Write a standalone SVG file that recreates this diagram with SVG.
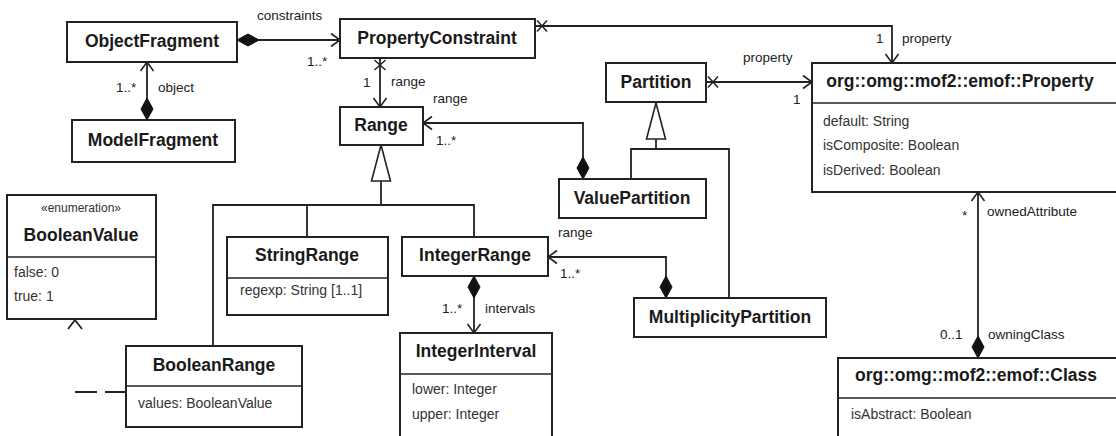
<svg xmlns="http://www.w3.org/2000/svg" width="1116" height="436" viewBox="0 0 1116 436">
<style>
.box{fill:#fff;stroke:#222;stroke-width:2}
.sep{stroke:#222;stroke-width:1.5}
.t{font-family:"Liberation Sans",Arial,sans-serif;font-weight:bold;font-size:17.5px;fill:#1a1a1a;text-anchor:middle}
.a{font-family:"Liberation Sans",Arial,sans-serif;font-size:14px;fill:#333}
.st{font-family:"Liberation Sans",Arial,sans-serif;font-size:12px;fill:#333;text-anchor:middle}
.l{font-family:"Liberation Sans",Arial,sans-serif;font-size:13.5px;fill:#222}
.c{fill:none;stroke:#222;stroke-width:1.8}
</style>
<defs>
<marker id="arr" viewBox="-11 -8 12 16" refX="0" refY="0" markerWidth="12" markerHeight="16" markerUnits="userSpaceOnUse" orient="auto" overflow="visible">
<path d="M-9,-6.5 L0,0 L-9,6.5" fill="none" stroke="#222" stroke-width="1.6"/>
</marker>
<marker id="dia" viewBox="-24 -7 26 14" refX="0" refY="0" markerWidth="26" markerHeight="14" markerUnits="userSpaceOnUse" orient="auto-start-reverse" overflow="visible">
<path d="M0,0 L-11,-6 L-22,0 L-11,6 Z" fill="#111" stroke="#111" stroke-width="1"/>
</marker>
<marker id="xm" viewBox="-14 -7 16 14" refX="0" refY="0" markerWidth="16" markerHeight="14" markerUnits="userSpaceOnUse" orient="auto-start-reverse" overflow="visible">
<path d="M-2,-5.5 L-12,5.5 M-2,5.5 L-12,-5.5" fill="none" stroke="#222" stroke-width="1.5"/>
</marker>
<marker id="gen" viewBox="-38 -11 40 22" refX="0" refY="0" markerWidth="40" markerHeight="22" markerUnits="userSpaceOnUse" orient="auto" overflow="visible">
<path d="M0,0 L-36,-9.5 L-36,9.5 Z" fill="#fff" stroke="#222" stroke-width="1.6"/>
</marker>
</defs>
<rect width="1116" height="436" fill="#fff"/>

<g id="connectors">
<path class="c" d="M237,40 H340" marker-start="url(#dia)" marker-end="url(#arr)"/>
<path class="c" d="M147,120 V62" marker-start="url(#dia)" marker-end="url(#arr)"/>
<path class="c" d="M535,26 H892 V63" marker-start="url(#xm)" marker-end="url(#arr)"/>
<path class="c" d="M380,58 V107" marker-start="url(#xm)" marker-end="url(#arr)"/>
<path class="c" d="M583,179 V123 H423" marker-start="url(#dia)" marker-end="url(#arr)"/>
<path class="c" d="M706,82 H812" marker-start="url(#xm)" marker-end="url(#arr)"/>
<path class="c" d="M666,298 V257 H548" marker-start="url(#dia)" marker-end="url(#arr)"/>
<path class="c" d="M474,276 V333" marker-start="url(#dia)" marker-end="url(#arr)"/>
<path class="c" d="M978,358 V192" marker-start="url(#dia)" marker-end="url(#arr)"/>
<path class="c" d="M213,346 V205 H474 V237 M307,205 V237"/>
<path class="c" d="M381,205 V145" marker-end="url(#gen)"/>
<path class="c" d="M631,179 V149 H729 V298"/>
<path class="c" d="M656,149 V103" marker-end="url(#gen)"/>
<path class="c" d="M75,392 H126" stroke-dasharray="22,8"/>
<path class="c" d="M68,329 L75,320 L82,329"/>
<text class="l" x="257" y="20">constraints</text>
<text class="l" x="307" y="66">1..*</text>
<text class="l" x="116" y="92">1..*</text>
<text class="l" x="158" y="92">object</text>
<text class="l" x="876" y="43">1</text>
<text class="l" x="902" y="43">property</text>
<text class="l" x="363" y="87">1</text>
<text class="l" x="391" y="86">range</text>
<text class="l" x="433" y="103">range</text>
<text class="l" x="436" y="145">1..*</text>
<text class="l" x="743" y="62">property</text>
<text class="l" x="793" y="104">1</text>
<text class="l" x="558" y="237">range</text>
<text class="l" x="560" y="278">1..*</text>
<text class="l" x="442" y="313">1..*</text>
<text class="l" x="485" y="313">intervals</text>
<text class="l" x="962" y="220">*</text>
<text class="l" x="987" y="216">ownedAttribute</text>
<text class="l" x="940" y="339">0..1</text>
<text class="l" x="988" y="339">owningClass</text>
</g>

<g id="ObjectFragment">
<rect class="box" x="67" y="22" width="170" height="40"/>
<text class="t" x="152" y="47">ObjectFragment</text>
</g>
<g id="ModelFragment">
<rect class="box" x="72" y="120" width="163" height="42"/>
<text class="t" x="153" y="146">ModelFragment</text>
</g>
<g id="PropertyConstraint">
<rect class="box" x="340" y="19" width="195" height="39"/>
<text class="t" x="437" y="44">PropertyConstraint</text>
</g>
<g id="Range">
<rect class="box" x="340" y="107" width="83" height="38"/>
<text class="t" x="381" y="131">Range</text>
</g>
<g id="Partition">
<rect class="box" x="606" y="63" width="100" height="39"/>
<text class="t" x="656" y="88">Partition</text>
</g>
<g id="ValuePartition">
<rect class="box" x="559" y="179" width="147" height="39"/>
<text class="t" x="632" y="204">ValuePartition</text>
</g>
<g id="Property">
<rect class="box" x="812" y="63" width="316" height="129"/>
<line class="sep" x1="812" y1="103" x2="1128" y2="103"/>
<text class="t" x="960" y="87">org::omg::mof2::emof::Property</text>
<text class="a" x="823" y="126">default: String</text>
<text class="a" x="823" y="150">isComposite: Boolean</text>
<text class="a" x="823" y="175">isDerived: Boolean</text>
</g>
<g id="BooleanValue">
<rect class="box" x="7" y="195" width="149" height="124"/>
<line class="sep" x1="7" y1="257" x2="156" y2="257"/>
<text class="st" x="81" y="212">«enumeration»</text>
<text class="t" x="81" y="241">BooleanValue</text>
<text class="a" x="14" y="277">false: 0</text>
<text class="a" x="14" y="301">true: 1</text>
</g>
<g id="StringRange">
<rect class="box" x="227" y="237" width="161" height="78"/>
<line class="sep" x1="227" y1="278" x2="388" y2="278"/>
<text class="t" x="307" y="261">StringRange</text>
<text class="a" x="240" y="295">regexp: String [1..1]</text>
</g>
<g id="IntegerRange">
<rect class="box" x="402" y="237" width="146" height="39"/>
<text class="t" x="475" y="261">IntegerRange</text>
</g>
<g id="MultiplicityPartition">
<rect class="box" x="634" y="298" width="192" height="39"/>
<text class="t" x="730" y="323">MultiplicityPartition</text>
</g>
<g id="BooleanRange">
<rect class="box" x="126" y="346" width="176" height="81"/>
<line class="sep" x1="126" y1="386" x2="302" y2="386"/>
<text class="t" x="214" y="371">BooleanRange</text>
<text class="a" x="138" y="408">values: BooleanValue</text>
</g>
<g id="IntegerInterval">
<rect class="box" x="400" y="333" width="152" height="115"/>
<line class="sep" x1="400" y1="374" x2="552" y2="374"/>
<text class="t" x="476" y="357">IntegerInterval</text>
<text class="a" x="412" y="394">lower: Integer</text>
<text class="a" x="412" y="419">upper: Integer</text>
</g>
<g id="Class">
<rect class="box" x="838" y="358" width="290" height="100"/>
<line class="sep" x1="838" y1="398" x2="1128" y2="398"/>
<text class="t" x="976" y="381">org::omg::mof2::emof::Class</text>
<text class="a" x="851" y="419">isAbstract: Boolean</text>
</g>
</svg>
